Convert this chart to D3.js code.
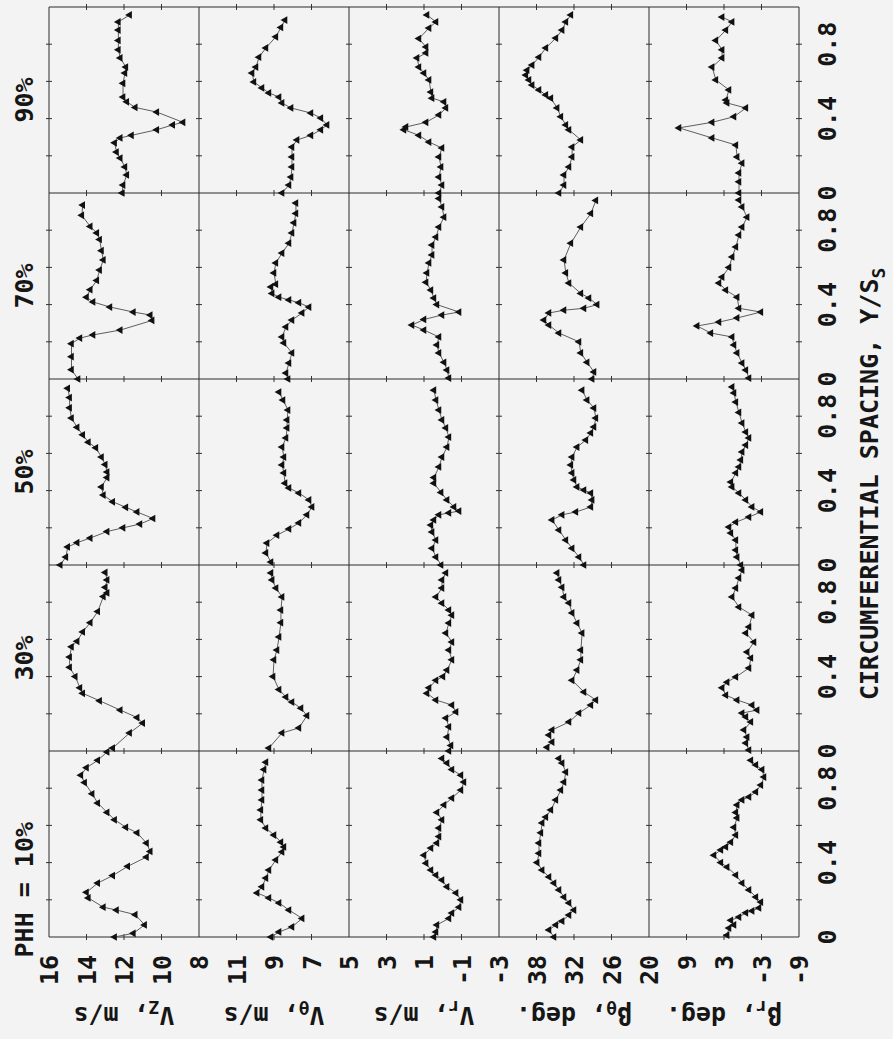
<!DOCTYPE html>
<html>
<head>
<meta charset="utf-8">
<script src="https://cdn.jsdelivr.net/npm/d3@7"></script>
<style>
  body { margin: 0; background: #f3f3f3; }
  svg { display: block; }
</style>
</head>
<body>
<div id="chart"></div>
<script>
// columns = hub-to-tip position, rows = measured quantity
const columnLabels = ["PHH = 10%", "30%", "50%", "70%", "90%"];
const xTickLabels = [0, 0.4, 0.8];

// [Y/S_S, value]
const vz10 = [[0,12.5],[0.02,11.5],[0.065,10.9],[0.12,11.4],[0.145,12.4],[0.16,13.1],[0.21,13.9],[0.24,14.0],[0.29,13.4],[0.33,12.6],[0.38,11.8],[0.43,10.8],[0.46,10.6],[0.505,10.8],[0.56,11.3],[0.59,11.9],[0.63,12.5],[0.67,12.9],[0.72,13.4],[0.77,13.7],[0.83,14.1],[0.87,14.3],[0.91,14.0],[0.95,13.4],[0.995,12.9]];
const vz30 = [[0.016,12.6],[0.097,11.7],[0.15,11.0],[0.18,11.3],[0.22,12.2],[0.27,13.3],[0.31,14.2],[0.34,14.35],[0.40,14.6],[0.45,14.9],[0.505,14.9],[0.56,14.8],[0.59,14.5],[0.64,14.2],[0.69,13.8],[0.75,13.4],[0.83,13.1],[0.85,12.9],[0.88,13.0],[0.92,12.9],[0.96,13.0]];
const vz50 = [[0,15.4],[0.043,15.1],[0.097,15.0],[0.12,14.5],[0.145,13.8],[0.18,12.9],[0.2,12.05],[0.22,11.15],[0.25,10.45],[0.285,11.3],[0.31,11.9],[0.34,12.6],[0.376,13.1],[0.42,13.2],[0.47,12.9],[0.5,12.9],[0.54,13.0],[0.58,13.2],[0.63,13.5],[0.66,13.9],[0.70,14.2],[0.74,14.5],[0.79,14.8],[0.845,14.9],[0.9,14.9],[0.95,15.0]];
const vz70 = [[0,14.45],[0.05,14.8],[0.12,14.8],[0.19,14.8],[0.22,14.35],[0.237,13.65],[0.263,12.2],[0.315,10.5],[0.344,10.6],[0.36,11.5],[0.387,12.75],[0.414,13.65],[0.44,14.0],[0.48,13.8],[0.53,13.45],[0.586,13.3],[0.64,13.1],[0.69,13.2],[0.75,13.3],[0.785,13.45],[0.82,13.8],[0.88,14.25],[0.935,14.2]];
const vz90 = [[0,12.1],[0.043,12.05],[0.097,11.85],[0.14,11.95],[0.188,12.2],[0.22,12.4],[0.27,12.5],[0.296,12.2],[0.31,11.6],[0.34,10.25],[0.366,9.4],[0.38,8.85],[0.435,10.25],[0.46,11.4],[0.49,11.85],[0.516,12.05],[0.59,12.05],[0.645,11.95],[0.677,11.9],[0.726,12.2],[0.77,12.3],[0.82,12.3],[0.876,12.3],[0.92,12.3],[0.957,11.7]];

const vth10 = [[0,9.16],[0.027,8.73],[0.054,8.04],[0.1,7.5],[0.145,8.2],[0.183,8.73],[0.21,9.27],[0.237,9.9],[0.27,9.64],[0.317,9.43],[0.36,9.27],[0.414,8.9],[0.457,8.57],[0.484,8.47],[0.51,8.63],[0.548,9.0],[0.586,9.43],[0.63,9.7],[0.683,9.7],[0.737,9.64],[0.79,9.64],[0.844,9.64],[0.9,9.53],[0.94,9.43]];
const vth30 = [[0.016,9.27],[0.097,8.57],[0.124,7.67],[0.19,7.24],[0.23,7.56],[0.263,8.04],[0.29,8.36],[0.33,8.73],[0.4,9.05],[0.49,9.0],[0.543,8.84],[0.613,8.73],[0.69,8.63],[0.758,8.63],[0.828,8.57],[0.876,8.89],[0.92,9.1],[0.957,9.16]];
const vth50 = [[0.016,9.16],[0.065,9.43],[0.118,9.37],[0.16,8.84],[0.194,8.2],[0.226,7.67],[0.27,7.24],[0.312,6.97],[0.35,7.13],[0.387,7.67],[0.414,8.2],[0.44,8.41],[0.495,8.47],[0.538,8.57],[0.58,8.47],[0.634,8.57],[0.683,8.36],[0.737,8.3],[0.78,8.3],[0.833,8.25],[0.887,8.52],[0.93,8.73]];
const vth70 = [[0,8.25],[0.032,8.36],[0.086,8.2],[0.14,8.04],[0.194,8.47],[0.226,8.57],[0.28,8.36],[0.317,8.04],[0.355,7.5],[0.387,7.13],[0.41,7.67],[0.425,8.2],[0.44,8.73],[0.46,9.1],[0.495,9.16],[0.51,8.9],[0.57,9.0],[0.624,8.9],[0.677,8.57],[0.73,8.2],[0.785,8.04],[0.84,7.93],[0.89,7.83],[0.946,7.83]];
const vth90 = [[0,8.57],[0.043,8.2],[0.086,8.09],[0.14,8.04],[0.194,8.04],[0.247,8.04],[0.285,7.77],[0.31,7.03],[0.34,6.5],[0.366,6.17],[0.403,6.5],[0.43,7.03],[0.457,8.09],[0.484,8.57],[0.516,8.73],[0.538,9.27],[0.565,9.64],[0.597,10.07],[0.645,10.17],[0.677,9.96],[0.73,9.8],[0.78,9.43],[0.84,8.9],[0.89,8.63],[0.93,8.41]];

const vr10 = [[0,0.47],[0.027,0.36],[0.065,0.31],[0.1,-0.33],[0.129,-0.49],[0.16,-0.87],[0.2,-0.97],[0.237,-0.71],[0.27,-0.23],[0.306,0.04],[0.333,0.36],[0.36,0.63],[0.397,0.89],[0.44,1.0],[0.478,0.63],[0.505,0.31],[0.54,0.2],[0.586,0.2],[0.63,0.04],[0.67,0.31],[0.71,-0.07],[0.747,-0.49],[0.79,-0.97],[0.833,-1.13],[0.87,-0.97],[0.9,-0.49],[0.935,-0.23],[0.96,0.04]];
const vr30 = [[0,-0.33],[0.03,-0.44],[0.075,-0.23],[0.13,-0.33],[0.177,-0.17],[0.21,-0.71],[0.247,-0.49],[0.274,0.36],[0.31,0.84],[0.34,0.73],[0.38,0.36],[0.4,-0.01],[0.435,-0.23],[0.49,-0.49],[0.543,-0.33],[0.586,-0.49],[0.634,-0.17],[0.688,-0.33],[0.73,-0.49],[0.758,-0.33],[0.795,0.04],[0.828,0.36],[0.876,0.04],[0.92,0.04],[0.957,-0.17]];
const vr50 = [[0,0.09],[0.043,0.36],[0.09,0.57],[0.134,0.36],[0.177,0.57],[0.215,0.63],[0.242,0.47],[0.27,0.2],[0.28,-0.33],[0.29,-0.87],[0.312,-0.6],[0.35,-0.23],[0.39,0.09],[0.44,0.47],[0.47,0.47],[0.527,0.2],[0.58,0.04],[0.634,-0.23],[0.688,-0.33],[0.737,-0.17],[0.78,0.04],[0.833,0.2],[0.887,0.36],[0.94,0.47]];
const vr70 = [[0.005,-0.33],[0.048,-0.23],[0.09,-0.07],[0.14,0.2],[0.183,0.31],[0.226,0.2],[0.263,1.0],[0.29,1.64],[0.32,1.0],[0.344,0.04],[0.36,-0.87],[0.4,0.31],[0.435,0.47],[0.478,0.63],[0.52,0.89],[0.57,0.84],[0.624,0.73],[0.667,0.57],[0.72,0.57],[0.763,0.36],[0.817,0.2],[0.87,-0.07],[0.925,0.04],[0.97,0.2]];
const vr90 = [[0,0.2],[0.043,0.04],[0.086,0.2],[0.14,0.09],[0.194,0.2],[0.242,0.04],[0.274,0.73],[0.31,1.27],[0.34,2.07],[0.355,1.96],[0.38,0.89],[0.42,0.2],[0.457,-0.17],[0.49,-0.07],[0.51,0.57],[0.543,0.63],[0.608,0.73],[0.645,1.0],[0.677,1.27],[0.726,1.37],[0.753,0.89],[0.785,0.89],[0.83,1.27],[0.887,0.73],[0.92,0.36],[0.957,0.84]];

const bth10 = [[0,35.2],[0.038,36.0],[0.065,34.9],[0.086,33.9],[0.118,32.8],[0.145,32.0],[0.183,32.8],[0.215,33.6],[0.253,34.4],[0.29,35.2],[0.323,36.0],[0.36,37.1],[0.4,37.9],[0.45,37.6],[0.505,37.6],[0.56,37.3],[0.613,37.1],[0.645,36.5],[0.683,35.7],[0.737,34.9],[0.79,34.1],[0.833,33.6],[0.887,33.3],[0.935,33.9],[0.96,34.4]];
const bth30 = [[0.02,36.3],[0.048,35.5],[0.086,36.0],[0.113,35.5],[0.156,32.8],[0.204,31.2],[0.247,29.3],[0.274,28.5],[0.317,30.4],[0.38,32.3],[0.435,31.5],[0.49,30.9],[0.543,30.9],[0.634,30.7],[0.688,31.5],[0.742,32.3],[0.796,32.8],[0.828,33.6],[0.88,33.9],[0.92,34.4],[0.957,34.7]];
const bth50 = [[0,30.4],[0.043,31.2],[0.09,32.3],[0.134,33.3],[0.188,34.4],[0.242,35.5],[0.27,33.9],[0.285,31.7],[0.312,29.3],[0.35,29.1],[0.387,29.3],[0.403,30.4],[0.42,31.5],[0.457,32.0],[0.495,32.3],[0.538,32.5],[0.58,32.3],[0.634,31.5],[0.672,30.1],[0.71,29.3],[0.742,28.8],[0.79,28.5],[0.844,28.8],[0.887,29.9],[0.94,30.7]];
const bth70 = [[0,29.1],[0.038,28.8],[0.09,29.9],[0.14,30.9],[0.2,31.2],[0.247,34.4],[0.29,36.0],[0.317,36.8],[0.355,36.0],[0.37,33.6],[0.38,30.4],[0.4,28.3],[0.435,29.6],[0.46,30.9],[0.516,32.8],[0.57,33.3],[0.64,33.6],[0.73,32.5],[0.817,30.9],[0.89,29.3],[0.96,28.5]];
const bth90 = [[0,34.4],[0.043,33.6],[0.097,33.6],[0.14,32.8],[0.194,32.3],[0.247,32.3],[0.285,30.9],[0.34,32.8],[0.366,33.3],[0.41,34.1],[0.457,34.7],[0.51,35.7],[0.527,36.5],[0.554,37.6],[0.58,38.7],[0.608,39.2],[0.634,39.7],[0.66,39.5],[0.688,38.7],[0.73,37.6],[0.78,36.5],[0.833,34.9],[0.876,33.9],[0.92,33.3],[0.957,32.5]];

const br10 = [[0.01,2.5],[0.048,2.2],[0.065,1.4],[0.09,1.9],[0.107,0.6],[0.13,-0.5],[0.14,-1.5],[0.156,-2.6],[0.188,-2.9],[0.215,-2.1],[0.253,-1.0],[0.29,0.1],[0.333,1.1],[0.376,2.5],[0.4,3.5],[0.44,4.6],[0.468,3.5],[0.484,2.7],[0.51,1.9],[0.548,1.1],[0.59,1.4],[0.64,0.9],[0.67,1.1],[0.71,0.9],[0.737,0.1],[0.753,-1.0],[0.78,-2.1],[0.817,-2.9],[0.86,-3.4],[0.9,-3.1],[0.925,-2.1],[0.95,-1.3]];
const br30 = [[0.005,-1.0],[0.043,-0.5],[0.075,-0.7],[0.113,-0.2],[0.156,-1.3],[0.183,-0.5],[0.204,0.1],[0.22,-2.3],[0.247,-1.5],[0.274,0.9],[0.3,2.7],[0.34,3.3],[0.37,2.5],[0.398,1.1],[0.446,-1.0],[0.5,-1.3],[0.532,-0.7],[0.586,-1.8],[0.634,-0.5],[0.667,-1.0],[0.73,-1.5],[0.774,0.6],[0.828,1.7],[0.876,1.1],[0.93,0.6],[0.973,0.1]];
const br50 = [[0,0.3],[0.043,0.9],[0.08,1.1],[0.134,1.1],[0.172,1.9],[0.204,2.2],[0.23,1.1],[0.258,-1.0],[0.285,-2.9],[0.312,-1.5],[0.35,-0.5],[0.387,0.6],[0.42,1.7],[0.446,1.9],[0.495,1.1],[0.527,0.6],[0.565,0.3],[0.608,0.1],[0.645,-0.5],[0.683,-1.0],[0.715,-0.5],[0.763,0.1],[0.82,0.6],[0.876,1.1],[0.925,1.4],[0.957,1.7]];
const br70 = [[0.005,-1.0],[0.048,-0.5],[0.086,0.1],[0.14,0.9],[0.183,1.4],[0.226,1.7],[0.247,5.1],[0.285,7.3],[0.306,3.8],[0.328,0.9],[0.36,-2.9],[0.38,0.6],[0.44,0.9],[0.478,2.7],[0.516,3.8],[0.548,3.3],[0.6,2.2],[0.656,1.7],[0.71,1.1],[0.774,0.6],[0.817,0.1],[0.87,-0.7],[0.925,0.1],[0.962,0.6]];
const br90 = [[0,0.6],[0.06,0.6],[0.108,0.6],[0.16,0.1],[0.194,0.9],[0.258,1.1],[0.296,4.9],[0.35,10.2],[0.38,4.9],[0.41,1.4],[0.457,-0.5],[0.484,2.5],[0.5,2.7],[0.554,2.2],[0.608,4.3],[0.677,4.9],[0.726,3.3],[0.77,3.3],[0.82,4.3],[0.876,2.7],[0.92,1.7],[0.946,3.3]];

// one entry per row: title parts, domain, labelled ticks, tick step
const rowTitles = [["V", "Z", ", m/s"], ["V", "θ", ", m/s"], ["V", "r", ", m/s"], ["β", "θ", ", deg."], ["β", "r", ", deg."]];
const rowDomains = [[8, 16], [5, 13], [-3, 5], [20, 44], [-9, 15]];
const rowTickLabels = [[16, 14, 12, 10, 8], [11, 9, 7, 5], [3, 1, -1, -3], [38, 32, 26, 20], [9, 3, -3, -9]];
const rowSteps = [2, 2, 2, 6, 6];
const rowSeries = [
    [vz10, vz30, vz50, vz70, vz90],
    [vth10, vth30, vth50, vth70, vth90],
    [vr10, vr30, vr50, vr70, vr90],
    [bth10, bth30, bth50, bth70, bth90],
    [br10, br30, br50, br70, br90]
];

const width = 893;
const height = 1039;

// the page is printed sideways, so draw it upright and turn it
const plotLeft = 102, colW = 186, plotTop = 49, rowH = 150;
const nCols = columnLabels.length, nRows = rowSeries.length;
const fontFamily = "'DejaVu Sans Mono', monospace";
const ink = "#161616";

const svg = d3.select("#chart")
    .append("svg")
    .attr("width", width)
    .attr("height", height)
    .style("background", "#f3f3f3");

const g = svg.append("g")
    .attr("transform", "translate(0," + height + ") rotate(-90)")
    .attr("font-family", fontFamily)
    .attr("font-weight", "bold")
    .attr("fill", ink);

//x scale for each column
const xScales = d3.range(nCols).map(function(c) {
    return d3.scaleLinear().domain([0, 1]).range([plotLeft + c * colW, plotLeft + (c + 1) * colW]);
});

//y scale for each row
const yScales = d3.range(nRows).map(function(r) {
    return d3.scaleLinear().domain(rowDomains[r]).range([plotTop + (r + 1) * rowH, plotTop + r * rowH]);
});

//grid lines
const grid = g.append("g").attr("stroke", "#2a2a2a").attr("stroke-width", 1);
d3.range(nCols + 1).forEach(function(c) {
    const x = plotLeft + c * colW;
    grid.append("line").attr("x1", x).attr("x2", x).attr("y1", plotTop).attr("y2", plotTop + nRows * rowH);
});
d3.range(nRows + 1).forEach(function(r) {
    const y = plotTop + r * rowH;
    grid.append("line").attr("x1", plotLeft).attr("x2", plotLeft + nCols * colW).attr("y1", y).attr("y2", y);
});

//small ticks crossing every grid line
const ticks = g.append("g").attr("stroke", "#333").attr("stroke-width", 1);
yScales.forEach(function(y, r) {
    const d = rowDomains[r];
    d3.range(d[0] + rowSteps[r], d[1], rowSteps[r]).forEach(function(v) {
        d3.range(nCols + 1).forEach(function(c) {
            const x = plotLeft + c * colW;
            ticks.append("line").attr("x1", x - 3).attr("x2", x + 3).attr("y1", y(v)).attr("y2", y(v));
        });
    });
});
xScales.forEach(function(x) {
    [0.2, 0.4, 0.6, 0.8].forEach(function(s) {
        d3.range(nRows + 1).forEach(function(r) {
            const y = plotTop + r * rowH;
            ticks.append("line").attr("x1", x(s)).attr("x2", x(s)).attr("y1", y - 3).attr("y2", y + 3);
        });
    });
});

//curves with markers
const marker = d3.symbol().type(d3.symbolTriangle).size(26);
rowSeries.forEach(function(row, r) {
    row.forEach(function(series, c) {
        const line = d3.line()
            .x(function(d) { return xScales[c](d[0]); })
            .y(function(d) { return yScales[r](d[1]); });

        g.append("path")
            .datum(series)
            .attr("d", line)
            .attr("fill", "none")
            .attr("stroke", "#5e5e5e")
            .attr("stroke-width", 1);

        g.append("g").selectAll("path")
            .data(series)
            .enter()
            .append("path")
            .attr("d", marker)
            .attr("transform", function(d) {
                return "translate(" + xScales[c](d[0]) + "," + yScales[r](d[1]) + ")";
            })
            .attr("fill", "#111");
    });
});

//y tick labels
rowTickLabels.forEach(function(labels, r) {
    g.append("g").selectAll("text")
        .data(labels)
        .enter()
        .append("text")
        .attr("x", 84)
        .attr("y", function(d) { return yScales[r](d); })
        .attr("dy", "0.36em")
        .attr("text-anchor", "end")
        .attr("font-size", 25)
        .text(function(d) { return d; });
});

//y axis titles, turned
rowTitles.forEach(function(t, r) {
    const cy = plotTop + r * rowH + rowH / 2;
    const txt = g.append("text")
        .attr("transform", "translate(32," + cy + ") rotate(-90)")
        .attr("text-anchor", "middle")
        .attr("font-size", 25);
    txt.append("tspan").text(t[0]);
    txt.append("tspan").attr("font-size", 18).attr("dy", 6).text(t[1]);
    txt.append("tspan").attr("dy", -6).text(t[2]);
});

//x tick labels
xScales.forEach(function(x) {
    g.append("g").selectAll("text")
        .data(xTickLabels)
        .enter()
        .append("text")
        .attr("x", function(d) { return x(d); })
        .attr("y", 836)
        .attr("text-anchor", "middle")
        .attr("font-size", 25)
        .text(function(d) { return d; });
});

//column titles
columnLabels.forEach(function(lab, c) {
    const first = c === 0;
    g.append("text")
        .attr("x", first ? plotLeft + colW / 2 + 22 : plotLeft + c * colW + colW / 2)
        .attr("y", 33)
        .attr("text-anchor", first ? "end" : "middle")
        .attr("font-size", 25)
        .text(lab);
});

//x axis title
const xTitle = g.append("text")
    .attr("x", 339)
    .attr("y", 878)
    .attr("font-size", 25);
xTitle.append("tspan").text("CIRCUMFERENTIAL SPACING, Y/S");
xTitle.append("tspan").attr("font-size", 18).attr("dy", 7).text("S");
</script>
</body>
</html>
